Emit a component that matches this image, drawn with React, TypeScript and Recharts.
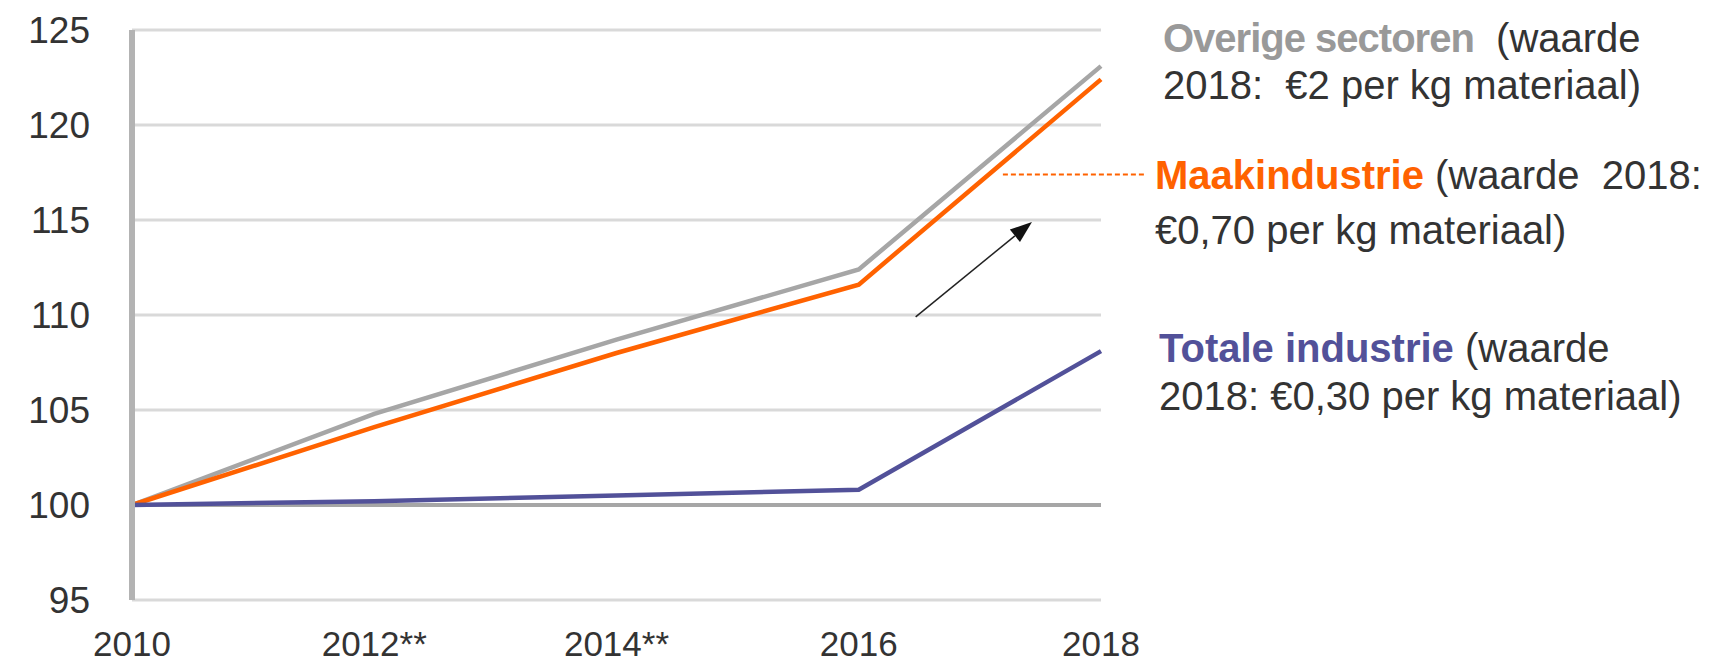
import React from 'react';
import { LineChart, Line, XAxis, YAxis, CartesianGrid, ReferenceLine } from 'recharts';

const years = [2010, 2012, 2014, 2016, 2018];
const yearLabels = ['2010', '2012**', '2014**', '2016', '2018'];
const overige = [100, 104.8, 108.7, 112.4, 123.1];
const maakindustrie = [100, 104.1, 108.0, 111.6, 122.4];
const totaleIndustrie = [100, 100.2, 100.5, 100.8, 108.1];
const yTicks = [95, 100, 105, 110, 115, 120, 125];

// annotation anchors, in data units (year, index)
const arrowFrom = { x: 2016.47, y: 109.9 };
const arrowTo = { x: 2017.43, y: 114.9 };
const maakPointer = [{ x: 2017.19, y: 117.4 }, { x: 2018.37, y: 117.4 }];

const data = years.map((year, i) => ({
  year,
  overige: overige[i],
  maak: maakindustrie[i],
  totaal: totaleIndustrie[i],
}));

const GRAY = '#a6a6a6';
const ORANGE = '#ff6200';
const PURPLE = '#525199';
const TEXT = '#333333';
const FONT = '"Liberation Sans", Arial, sans-serif';

const ArrowShape = (props: any) => {
  const { x1, y1, x2, y2 } = props;
  const angle = Math.atan2(y2 - y1, x2 - x1);
  const len = 22;
  const half = 8;
  const bx = x2 - len * Math.cos(angle);
  const by = y2 - len * Math.sin(angle);
  const px = -Math.sin(angle) * half;
  const py = Math.cos(angle) * half;
  return (
    <g>
      <line x1={x1} y1={y1} x2={bx} y2={by} stroke="#222" strokeWidth={1.5} />
      <polygon points={`${x2},${y2} ${bx + px},${by + py} ${bx - px},${by - py}`} fill="#111" />
    </g>
  );
};

const labelLine = (top: number, left: number, children: React.ReactNode) => (
  <div
    style={{
      position: 'absolute',
      top,
      left,
      whiteSpace: 'nowrap',
      fontFamily: FONT,
      fontSize: 40,
      lineHeight: 1,
      color: TEXT,
    }}
  >
    {children}
  </div>
);

export default function App() {
  return (
    <div style={{ position: 'absolute', left: 0, top: 0, width: 1717, height: 666, background: '#fff' }}>
      <LineChart width={1717} height={666} data={data} margin={{ top: 30, right: 616, bottom: 0, left: 0 }}>
        <CartesianGrid vertical={false} stroke="#d9d9d9" strokeWidth={3} />
        <XAxis
          dataKey="year"
          type="number"
          domain={[2010, 2018]}
          ticks={years}
          tickFormatter={(v) => yearLabels[years.indexOf(v)]}
          axisLine={false}
          tickLine={false}
          tickSize={0}
          tickMargin={31}
          height={66}
          interval={0}
          tick={{ fill: TEXT, fontSize: 35, fontFamily: FONT }}
        />
        <YAxis
          domain={[95, 125]}
          ticks={yTicks}
          width={132}
          axisLine={{ stroke: '#b3b3b3', strokeWidth: 6 }}
          tickLine={false}
          tickSize={0}
          tickMargin={42}
          interval={0}
          tick={{ fill: TEXT, fontSize: 37, fontFamily: FONT }}
        />
        <ReferenceLine y={100} stroke={GRAY} strokeWidth={4} />
        <Line type="linear" dataKey="overige" stroke={GRAY} strokeWidth={4.5} dot={false} isAnimationActive={false} />
        <Line type="linear" dataKey="maak" stroke={ORANGE} strokeWidth={4.5} dot={false} isAnimationActive={false} />
        <Line type="linear" dataKey="totaal" stroke={PURPLE} strokeWidth={4.5} dot={false} isAnimationActive={false} />
        <ReferenceLine
          segment={maakPointer}
          stroke={ORANGE}
          strokeWidth={2}
          strokeDasharray="5 3"
          ifOverflow="visible"
        />
        <ReferenceLine segment={[arrowFrom, arrowTo]} ifOverflow="visible" shape={ArrowShape} />
      </LineChart>
      {labelLine(18, 1163, <><b style={{ color: '#999999', letterSpacing: -1 }}>Overige sectoren</b>&nbsp; (waarde</>)}
      {labelLine(65, 1163, <>2018:&nbsp; €2 per kg materiaal)</>)}
      {labelLine(155, 1155, <><b style={{ color: ORANGE }}>Maakindustrie</b> (waarde&nbsp; 2018:</>)}
      {labelLine(210, 1155, <>€0,70 per kg materiaal)</>)}
      {labelLine(328, 1159, <><b style={{ color: PURPLE }}>Totale industrie</b> (waarde</>)}
      {labelLine(376, 1159, <>2018: €0,30 per kg materiaal)</>)}
    </div>
  );
}
